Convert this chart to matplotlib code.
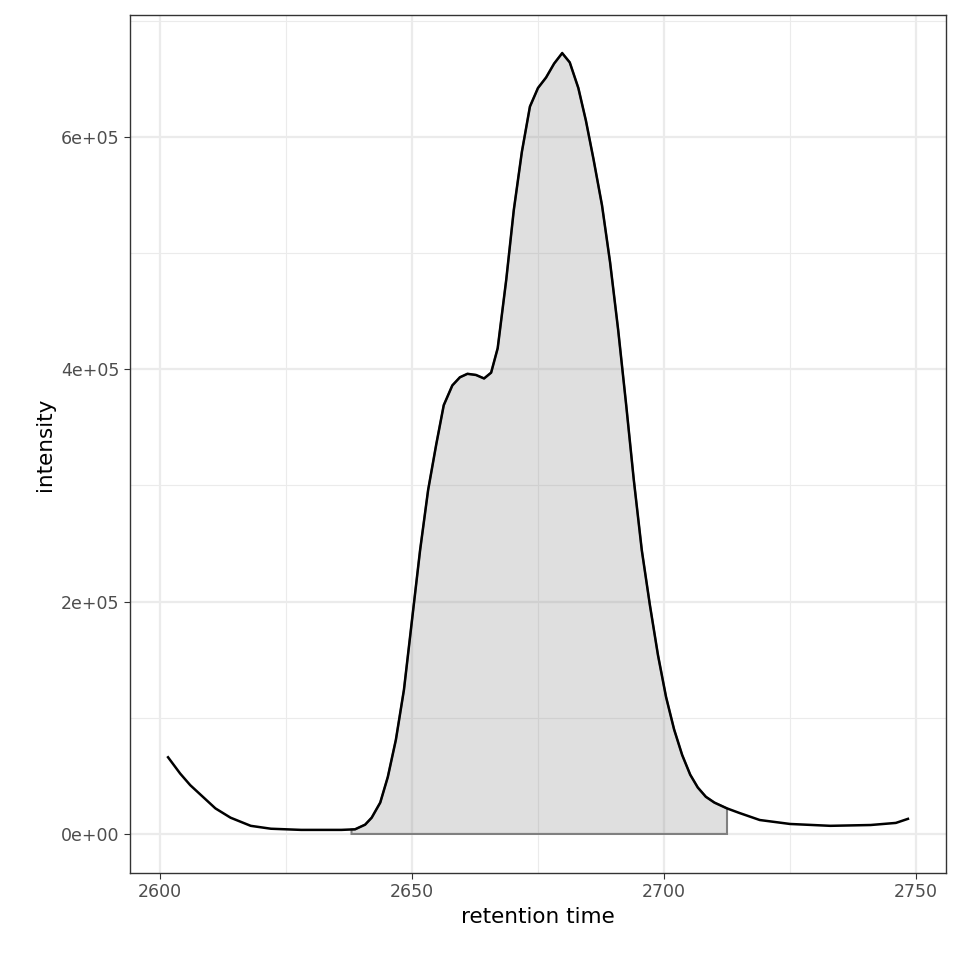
import numpy as np
import matplotlib.pyplot as plt
from matplotlib.ticker import MultipleLocator, FuncFormatter

# chromatogram trace
rt = [2601.6, 2604, 2606, 2608, 2611, 2614, 2618, 2622, 2628, 2636, 2638.7,
      2640.7, 2642, 2643.7, 2645.2, 2646.8, 2648.4, 2650, 2651.6, 2653.2,
      2654.8, 2656.3, 2658, 2659.5, 2661, 2662.7, 2664.3, 2665.7, 2667,
      2668.7, 2670.2, 2671.8, 2673.4, 2675, 2676.6, 2678.2, 2679.8, 2681.3,
      2683, 2684.5, 2686, 2687.7, 2689.3, 2690.9, 2692.5, 2694, 2695.6,
      2697.2, 2698.8, 2700.4, 2702, 2703.6, 2705.2, 2706.7, 2708.3, 2710,
      2712.5, 2715, 2719, 2725, 2733, 2741, 2746, 2748.4]
intensity_e5 = [0.66, 0.52, 0.42, 0.34, 0.22, 0.14, 0.07, 0.045, 0.035, 0.035, 0.04,
                0.08, 0.14, 0.27, 0.49, 0.81, 1.24, 1.84, 2.44, 2.96,
                3.35, 3.69, 3.86, 3.93, 3.96, 3.95, 3.92, 3.97, 4.18,
                4.77, 5.37, 5.87, 6.26, 6.42, 6.51, 6.63, 6.72, 6.64,
                6.42, 6.14, 5.81, 5.41, 4.92, 4.34, 3.69, 3.05, 2.44,
                1.97, 1.54, 1.18, 0.90, 0.68, 0.51, 0.40, 0.32, 0.27,
                0.22, 0.18, 0.12, 0.086, 0.07, 0.077, 0.095, 0.13]
peak_start, peak_end = 2638.0, 2712.5

x = np.array(rt)
y = np.array(intensity_e5) * 1e5

fig = plt.figure(figsize=(9.6, 9.6), dpi=100)
ax = fig.add_axes([130 / 960, 87 / 960, 816 / 960, 858 / 960])

# integrated peak area
mask = (x > peak_start) & (x < peak_end)
fx = np.concatenate([[peak_start], x[mask], [peak_end]])
fy = np.concatenate([[np.interp(peak_start, x, y)], y[mask], [np.interp(peak_end, x, y)]])
px = np.concatenate([[peak_start], fx, [peak_end]])
py = np.concatenate([[0], fy, [0]])
ax.fill(px, py, facecolor=(0.5, 0.5, 0.5, 0.25), edgecolor='#808080', linewidth=1.5, zorder=2)

ax.plot(x, y, color='black', linewidth=1.8, zorder=3)

ax.set_xlim(2594.05, 2755.95)
ax.set_ylim(-0.336e5, 7.048e5)
ax.xaxis.set_major_locator(MultipleLocator(50))
ax.xaxis.set_minor_locator(MultipleLocator(25))
ax.yaxis.set_major_locator(MultipleLocator(2e5))
ax.yaxis.set_minor_locator(MultipleLocator(1e5))
ax.yaxis.set_major_formatter(FuncFormatter(
    lambda v, p: "0e+00" if abs(v) < 1 else f"{int(round(v / 1e5))}e+05"))

ax.grid(which='major', color='#EBEBEB', linewidth=1.6, zorder=0)
ax.grid(which='minor', color='#EBEBEB', linewidth=0.8, zorder=0)
ax.set_axisbelow(True)
for s in ax.spines.values():
    s.set_color('#333333')
    s.set_linewidth(1.0)
ax.tick_params(which='major', length=4, color='#333333', labelsize=12.5, labelcolor='#4D4D4D')
ax.tick_params(which='minor', length=0)

ax.set_xlabel('retention time', fontsize=15.5)
ax.set_ylabel('intensity', fontsize=15.5)

fig.savefig('out.png', dpi=100)
